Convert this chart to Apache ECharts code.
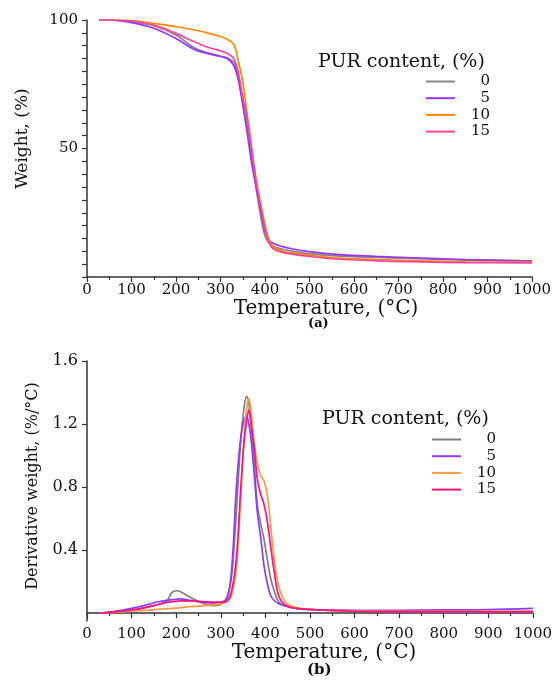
<!DOCTYPE html>
<html><head><meta charset="utf-8">
<script src="https://cdn.jsdelivr.net/npm/echarts@6/dist/echarts.min.js"></script>
<style>html,body{margin:0;padding:0;background:#fff}#c{width:555px;height:680px}</style>
</head><body><div id="c"></div>
<script>
// ---- data ----
const seriesNames = ['0', '5', '10', '15'];
const xTicks = [0, 100, 200, 300, 400, 500, 600, 700, 800, 900, 1000];
const tgaYLabels = [50, 100];
const dtgYLabels = [0.4, 0.8, 1.2, 1.6];

// (a) TGA: weight (%) vs temperature (°C)
const tgaTemp = [27,50,100,150,200,240,270,300,315,330,340,350,360,370,380,390,400,410,420,440,460,500,560,650,750,850,1000];
const tga0  = [100,100,99.4,97.8,94.2,89.3,87.3,86,85.3,83.5,78,68,59,47,35,24,16,13,11.8,10.8,10.1,9.1,8.2,7.6,7.1,6.6,6.3];
const tga5  = [100,100,99,96.8,92.8,88.6,87,85.8,85,82.3,76.6,67,56,44.3,35,26,18,14.2,12.9,11.8,11,9.9,8.8,8,7.4,6.8,6.2];
const tga10 = [100,100,99.8,98.7,97.4,96.2,95,93.6,92.5,90.5,84,76,63,50,38,29,20.5,14,11.5,10,9.4,8.5,7.5,6.8,6.3,5.9,5.8];
const tga15 = [100,100,99.6,98,94.8,91.6,89.5,88,87,85,79.5,70,62,50,37.5,27.5,19,13,10.8,9.6,8.9,8,7,6.3,5.9,5.6,5.5];

// (b) DTG: derivative weight (%/°C) vs temperature (°C)
const dtgTemp = [30,60,100,130,160,180,190,200,210,225,250,280,300,315,325,335,345,352,358,363,368,375,382,390,397,405,412,420,430,445,470,520,600,700,800,900,1000];
const dtg0  = [0.0,0.008,0.02,0.035,0.055,0.08,0.13,0.142,0.135,0.11,0.075,0.048,0.055,0.11,0.25,0.65,1.1,1.3,1.375,1.33,1.2,0.95,0.69,0.56,0.47,0.33,0.22,0.14,0.07,0.045,0.03,0.02,0.015,0.012,0.01,0.01,0.01];
const dtg5  = [0.0,0.01,0.03,0.05,0.072,0.082,0.085,0.088,0.09,0.085,0.072,0.064,0.068,0.1,0.3,0.8,1.12,1.22,1.25,1.2,1.1,0.88,0.64,0.47,0.3,0.18,0.11,0.08,0.06,0.045,0.03,0.02,0.018,0.018,0.02,0.022,0.03];
const dtg10 = [0.0,0.005,0.012,0.018,0.024,0.028,0.03,0.032,0.035,0.04,0.045,0.052,0.06,0.075,0.12,0.28,0.75,1.1,1.3,1.36,1.28,1.08,0.95,0.87,0.84,0.74,0.55,0.34,0.17,0.07,0.035,0.02,0.015,0.012,0.012,0.012,0.012];
const dtg15 = [0.0,0.008,0.02,0.035,0.055,0.068,0.072,0.075,0.078,0.078,0.075,0.07,0.07,0.08,0.15,0.35,0.8,1.08,1.22,1.29,1.2,1.05,0.85,0.75,0.69,0.57,0.42,0.26,0.11,0.05,0.03,0.02,0.012,0.01,0.01,0.008,0.01];

// ---- styling ----
const FONT = 'DejaVu Serif';
const AX = '#333';
const topColors = ['#858585', '#9933ff', '#ff8800', '#ff4499'];
const botColors = ['#7f7f7f', '#8c3cff', '#ff9a40', '#ff1080'];

const zip = (xs, ys) => xs.map((x, i) => [x, ys[i]]);
const tgaSets = [tga0, tga5, tga10, tga15];
const dtgSets = [dtg0, dtg5, dtg10, dtg15];
const botNames = seriesNames.map(n => n + ' ');

const series = [];
tgaSets.forEach((d, i) => series.push({
  name: seriesNames[i], type: 'line', xAxisIndex: 0, yAxisIndex: 0,
  data: zip(tgaTemp, d), symbol: 'none', smooth: 0.35,
  lineStyle: { width: 1.7, color: topColors[i] }, itemStyle: { color: topColors[i] }
}));
dtgSets.forEach((d, i) => series.push({
  name: botNames[i], type: 'line', xAxisIndex: 1, yAxisIndex: 1,
  data: zip(dtgTemp, d), symbol: 'none', smooth: 0.35,
  lineStyle: { width: 1.7, color: botColors[i] }, itemStyle: { color: botColors[i] }
}));

const xAxisBase = (gridIndex, gap, pad) => ({
  type: 'value', gridIndex, min: 0, max: 1000, interval: 100,
  name: 'Temperature, (°C)', nameLocation: 'middle', nameGap: gap,
  nameTextStyle: { fontFamily: FONT, fontSize: 20, color: '#111', padding: [0, 0, 0, pad] },
  axisLine: { show: true, lineStyle: { color: AX, width: 1.5 } },
  axisTick: { show: true, length: 5, lineStyle: { color: AX, width: 1.2 } },
  minorTick: { show: true, splitNumber: 2, length: 3, lineStyle: { color: AX, width: 1.2 } },
  axisLabel: { fontFamily: FONT, fontSize: 15, color: '#111', margin: 6,
    customValues: xTicks, formatter: v => String(v), showMinLabel: true, showMaxLabel: true },
  splitLine: { show: false }
});

const legendBase = (names, left, top) => ({
  data: names, orient: 'vertical', left, top, padding: 0,
  icon: 'rect', itemWidth: 29, itemHeight: 2, itemGap: 1.7, itemTextGap: 4,
  formatter: n => '{a|' + n.trim() + '}',
  textStyle: { fontFamily: FONT, fontSize: 15, color: '#111',
    rich: { a: { width: 30, height: 14, lineHeight: 14, align: 'right', fontFamily: FONT, fontSize: 15, color: '#111' } } }
});

const option = {
  animation: false,
  backgroundColor: '#fff',
  title: [
    { text: '(a)', left: 308, top: 317, padding: 0,
      textStyle: { fontFamily: FONT, fontSize: 13, fontWeight: 'bold', color: '#111' } },
    { text: '(b)', left: 307, top: 663, padding: 0,
      textStyle: { fontFamily: FONT, fontSize: 15, fontWeight: 'bold', color: '#111' } },
    { text: 'PUR content, (%)', left: 318, top: 53, padding: 0,
      textStyle: { fontFamily: FONT, fontSize: 19, fontWeight: 'normal', color: '#111' } },
    { text: 'PUR content, (%)', left: 322, top: 410, padding: 0,
      textStyle: { fontFamily: FONT, fontSize: 19, fontWeight: 'normal', color: '#111' } }
  ],
  legend: [ legendBase(seriesNames, 426, 74), legendBase(botNames, 432, 432) ],
  grid: [
    { left: 87, right: 23, top: 20, height: 257, containLabel: false },
    { left: 87, right: 19, top: 361, height: 260, containLabel: false }
  ],
  xAxis: [ xAxisBase(0, 20, 33), xAxisBase(1, 20, 28) ],
  yAxis: [
    { type: 'value', gridIndex: 0, min: 0, max: 100, interval: 5,
      name: 'Weight, (%)', nameLocation: 'middle', nameGap: 56, nameRotate: 90,
      nameTextStyle: { fontFamily: FONT, fontSize: 17, color: '#111', padding: [0, 0, 0, 20] },
      axisLine: { show: true, lineStyle: { color: AX, width: 1.5 } },
      axisTick: { show: true, length: 5, lineStyle: { color: AX, width: 1.2 } },
      axisLabel: { fontFamily: FONT, fontSize: 15, color: '#111', margin: 9,
        formatter: v => (tgaYLabels.indexOf(v) >= 0 ? String(v) : '') },
      splitLine: { show: false } },
    { type: 'value', gridIndex: 1, min: -0.05, max: 1.6,
      name: 'Derivative weight, (%/°C)', nameLocation: 'middle', nameGap: 46, nameRotate: 90,
      nameTextStyle: { fontFamily: FONT, fontSize: 16, color: '#111', padding: [0, 0, 0, 10] },
      axisLine: { show: true, lineStyle: { color: AX, width: 1.5 } },
      axisTick: { show: true, length: 5, customValues: dtgYLabels, lineStyle: { color: AX, width: 1.2 } },
      axisLabel: { fontFamily: FONT, fontSize: 16, color: '#111', margin: 9,
        customValues: dtgYLabels, formatter: v => v.toFixed(1) },
      splitLine: { show: false } }
  ],
  series
};

const chart = echarts.init(document.getElementById('c'), null, { renderer: 'canvas' });
chart.setOption(option);
</script>
</body></html>
